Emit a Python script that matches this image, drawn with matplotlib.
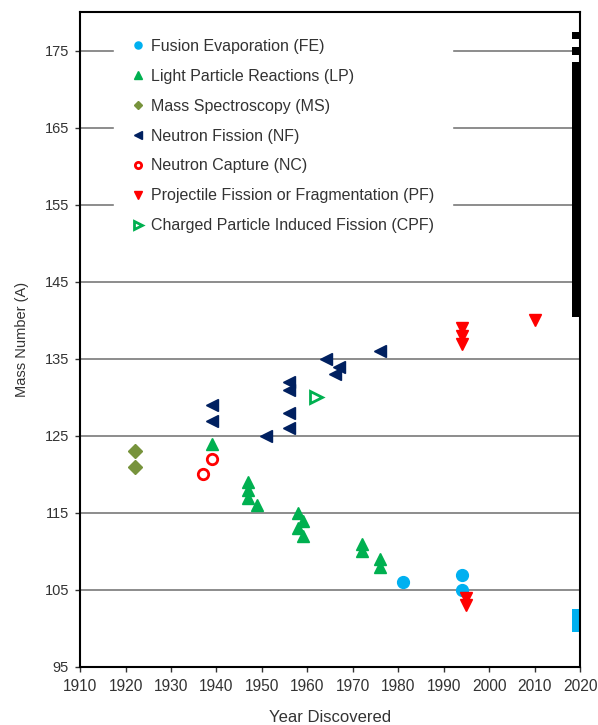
import matplotlib
matplotlib.use("Agg")
import matplotlib.pyplot as plt
import numpy as np

plt.rcParams['font.family'] = ['Liberation Sans', 'DejaVu Sans']

# Discovery year / mass number for each production method
fe_year = [1981, 1994, 1994]
fe_mass = [106, 107, 105]

lp_year = [1939, 1947, 1947, 1947, 1949, 1958, 1959, 1958, 1959, 1972, 1972, 1976, 1976]
lp_mass = [124, 119, 118, 117, 116, 115, 114, 113, 112, 111, 110, 109, 108]

ms_year = [1922, 1922]
ms_mass = [123, 121]

nf_year = [1939, 1939, 1956, 1956, 1956, 1956, 1951, 1964, 1967, 1966, 1976]
nf_mass = [129, 127, 132, 131, 128, 126, 125, 135, 134, 133, 136]

nc_year = [1937, 1939]
nc_mass = [120, 122]

pf_year = [1994, 1994, 1994, 1995, 1995, 2010]
pf_mass = [139, 138, 137, 104, 103, 140]

cpf_year = [1962]
cpf_mass = [130]

# Mass numbers marked along the right edge (2018-2020)
fe_recent_mass = [100, 101, 102]
black_mass = list(range(141, 174)) + [175, 177]
edge_start, edge_end = 2018.3, 2020

x_ticks = list(range(1910, 2021, 10))
y_ticks = list(range(95, 176, 10))

fig = plt.figure(figsize=(5.98, 7.25), dpi=100)
ax = fig.add_axes([0.134, 0.080, 0.836, 0.903])

ax.set_xlim(1910, 2020)
ax.set_ylim(95, 180)
ax.set_xticks(x_ticks)
ax.set_yticks(y_ticks)
ax.yaxis.grid(True, color='#8c8c8c', linewidth=1.4, zorder=0)
ax.set_axisbelow(True)

ax.barh(black_mass, edge_end - edge_start, left=edge_start, height=1.0,
        color='black', linewidth=0, zorder=3)
ax.barh(fe_recent_mass, edge_end - edge_start, left=edge_start, height=1.0,
        color='#00b0f0', linewidth=0, zorder=3)

ms = 8.5
ax.plot(fe_year, fe_mass, 'o', color='#00b0f0', ms=ms, mec='#00b0f0',
        label='Fusion Evaporation (FE)', zorder=4)
ax.plot(lp_year, lp_mass, '^', color='#00b050', ms=ms, mec='#00b050',
        label='Light Particle Reactions (LP)', zorder=4)
ax.plot(ms_year, ms_mass, 'D', color='#77933c', ms=ms - 1.5, mec='#77933c',
        label='Mass Spectroscopy (MS)', zorder=4)
ax.plot(nf_year, nf_mass, '<', color='#002060', ms=ms, mec='#002060',
        label='Neutron Fission (NF)', zorder=4)
ax.plot(nc_year, nc_mass, 'o', mfc='none', mec='#ff0000', mew=2, ms=ms - 1,
        label='Neutron Capture (NC)', zorder=4)
ax.plot(pf_year, pf_mass, 'v', color='#ff0000', ms=ms, mec='#ff0000',
        label='Projectile Fission or Fragmentation (PF)', zorder=4)
ax.plot(cpf_year, cpf_mass, '>', mfc='none', mec='#00b050', mew=2, ms=ms,
        label='Charged Particle Induced Fission (CPF)', zorder=4)

for s in ax.spines.values():
    s.set_linewidth(1.5)
    s.set_color('black')
    s.set_zorder(5)

ax.tick_params(axis='both', direction='out', length=3.5, width=1,
               colors='#333333')
ax.tick_params(axis='y', pad=4.5, labelsize=10.5)
ax.tick_params(axis='x', pad=5, labelsize=11.2)
ax.set_xlabel('Year Discovered', fontsize=12, color='#333333', labelpad=12)
ax.set_ylabel('Mass Number (A)', fontsize=10.5, color='#333333', labelpad=11)

leg = ax.legend(loc='upper left', bbox_to_anchor=(0.068, 0.986),
                borderaxespad=0, frameon=True, fancybox=False, framealpha=1,
                edgecolor='white', facecolor='white', fontsize=11.5,
                markerscale=0.6, handlelength=0.8, handletextpad=0.4,
                labelspacing=0.93, borderpad=1.1)
leg.set_zorder(6)
for t in leg.get_texts():
    t.set_color('#333333')

fig.savefig('out.png', dpi=100)
